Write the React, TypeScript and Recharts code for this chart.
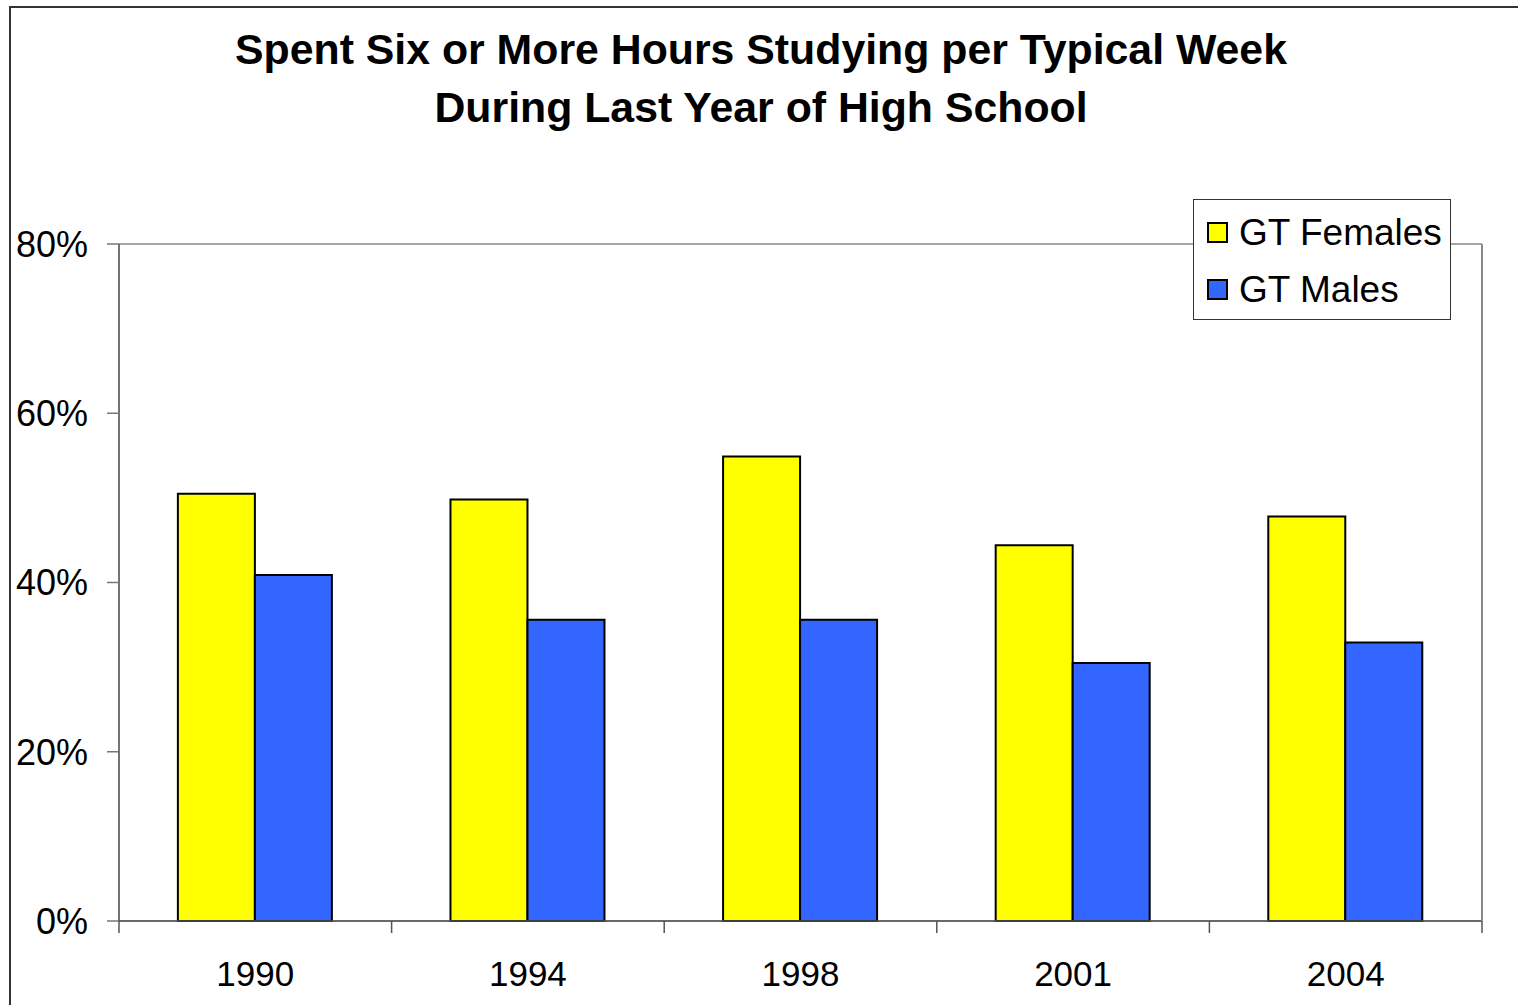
import React from "react";
import { BarChart, Bar, XAxis, YAxis, CartesianGrid, Legend } from "recharts";

const years = ["1990", "1994", "1998", "2001", "2004"];
const gtFemales = [50.5, 49.8, 54.9, 44.4, 47.8];
const gtMales = [40.9, 35.6, 35.6, 30.5, 32.9];
const yTicks = [0, 20, 40, 60, 80];
const titleLines = [
  "Spent Six or More Hours Studying per Typical Week",
  "During Last Year of High School",
];

const data = years.map((y, i) => ({ year: y, f: gtFemales[i], m: gtMales[i] }));

const FONT = "'Liberation Sans', Arial, sans-serif";

const XTick = (props: any) => {
  const { x, y, payload, index } = props;
  const half = payload.offset || 0;
  return (
    <g>
      <line x1={x - half} y1={y} x2={x - half} y2={y + 12} stroke="#555" strokeWidth={1.5} />
      {index === years.length - 1 && (
        <line x1={x + half} y1={y} x2={x + half} y2={y + 12} stroke="#555" strokeWidth={1.5} />
      )}
      <text x={x} y={y + 65} textAnchor="middle" fontSize={35} fontFamily={FONT} fill="#000">
        {payload.value}
      </text>
    </g>
  );
};

const renderLegend = (props: any) => {
  const { payload } = props;
  return (
    <div
      style={{
        width: 258,
        height: 121,
        border: "1px solid #333",
        background: "#fff",
        boxSizing: "border-box",
        paddingTop: 4,
      }}
    >
      {payload.map((p: any) => (
        <div
          key={p.value}
          style={{ display: "flex", alignItems: "center", height: 57, paddingLeft: 13 }}
        >
          <div
            style={{
              width: 17,
              height: 17,
              border: "2px solid #000",
              background: p.color,
              marginRight: 11,
            }}
          />
          <span style={{ fontSize: 37, fontFamily: FONT, color: "#000", lineHeight: "40px" }}>
            {p.value}
          </span>
        </div>
      ))}
    </div>
  );
};

export default function App() {
  return (
    <div style={{ position: "absolute", left: 0, top: 0, width: 1518, height: 1005, overflow: "hidden", background: "#fff" }}>
      <div
        style={{
          position: "absolute",
          left: 9,
          top: 6,
          width: 1540,
          height: 1040,
          border: "2px solid #333",
          boxSizing: "border-box",
        }}
      />
      <div
        style={{
          position: "absolute",
          left: 0,
          top: 20,
          width: 1522,
          textAlign: "center",
          fontFamily: FONT,
          fontWeight: "bold",
          fontSize: 42.8,
          lineHeight: "58px",
          color: "#000",
        }}
      >
        {titleLines.map((t) => (
          <div key={t}>{t}</div>
        ))}
      </div>
      <div style={{ position: "absolute", left: 0, top: 0 }}>
        <BarChart
          width={1518}
          height={1005}
          data={data}
          margin={{ top: 244, right: 35, bottom: 0, left: 0 }}
          barCategoryGap="21.6%"
          barGap={0}
        >
          <CartesianGrid vertical={false} stroke="#888" strokeWidth={1.5} />
          <XAxis
            dataKey="year"
            height={84}
            tickLine={false}
            tickSize={0}
            tickMargin={0}
            axisLine={{ stroke: "#555", strokeWidth: 1.5 }}
            tick={<XTick />}
            interval={0}
          />
          <YAxis
            yAxisId="left"
            width={119}
            domain={[0, 80]}
            ticks={yTicks}
            tickFormatter={(v: number) => `${v}%`}
            tickSize={12}
            tickMargin={19}
            tickLine={{ stroke: "#777", strokeWidth: 1.5 }}
            axisLine={{ stroke: "#444", strokeWidth: 1.5 }}
            tick={{ fontSize: 36, fontFamily: FONT, fill: "#000" }}
            interval={0}
          />
          <YAxis
            yAxisId="right"
            orientation="right"
            width={1}
            domain={[0, 80]}
            tick={false}
            tickLine={false}
            axisLine={{ stroke: "#888", strokeWidth: 2 }}
          />
          <Bar yAxisId="left" dataKey="f" name="GT Females" fill="#FFFF00" stroke="#000" strokeWidth={2} isAnimationActive={false} />
          <Bar yAxisId="left" dataKey="m" name="GT Males" fill="#3366FF" stroke="#000" strokeWidth={2} isAnimationActive={false} />
          <Legend
            layout="vertical"
            align="center"
            verticalAlign="middle"
            content={renderLegend}
            wrapperStyle={{ position: "absolute", left: 1193, top: 199, width: 258, height: 121 }}
          />
        </BarChart>
      </div>
    </div>
  );
}
